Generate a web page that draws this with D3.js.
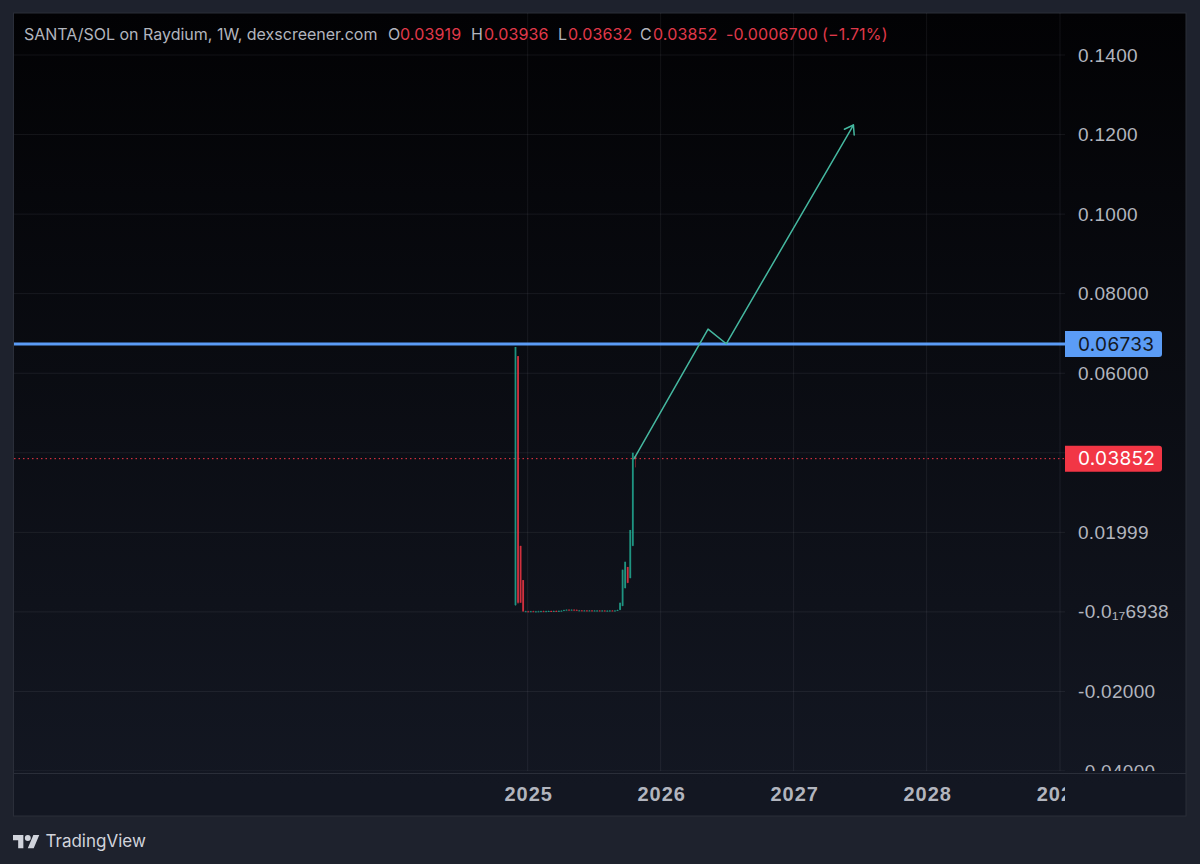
<!DOCTYPE html>
<html>
<head>
<meta charset="utf-8">
<script src="https://cdn.jsdelivr.net/npm/d3@7"></script>
<style>
  html, body { margin: 0; padding: 0; background: #1e222d; }
  svg { display: block; font-family: Inter, "Noto Sans", sans-serif; }
</style>
</head>
<body>
<svg id="chart" width="1200" height="864"></svg>
<script>
// DATA

const candleWeeks = [
  '2024-11-25', '2024-12-02', '2024-12-09', '2024-12-16', '2024-12-23', '2024-12-30',
  '2025-01-06', '2025-01-13', '2025-01-20', '2025-01-27', '2025-02-03', '2025-02-10',
  '2025-02-17', '2025-02-24', '2025-03-03', '2025-03-10', '2025-03-17', '2025-03-24',
  '2025-03-31', '2025-04-07', '2025-04-14', '2025-04-21', '2025-04-28', '2025-05-05',
  '2025-05-12', '2025-05-19', '2025-05-26', '2025-06-02', '2025-06-09', '2025-06-16',
  '2025-06-23', '2025-06-30', '2025-07-07', '2025-07-14', '2025-07-21', '2025-07-28',
  '2025-08-04', '2025-08-11', '2025-08-18', '2025-08-25', '2025-09-01', '2025-09-08',
  '2025-09-15', '2025-09-22', '2025-09-29', '2025-10-06', '2025-10-13', '2025-10-20'
];
const opens = [
  0.0017, 0.0643, 0.0166, 0.0080, 0.00012, 0.00014, 0.00012, 0.00016, 0.00010, 0.00012,
  0.00014, 0.00018, 0.00014, 0.00018, 0.00022, 0.00018, 0.00024, 0.00020, 0.00026, 0.00030,
  0.00050, 0.00056, 0.00048, 0.00056, 0.00052, 0.00036, 0.00038, 0.00034, 0.00036, 0.00032,
  0.00036, 0.00032, 0.00034, 0.00034, 0.00030, 0.00034, 0.00030, 0.00030, 0.00034, 0.00032,
  0.00034, 0.0005, 0.0015, 0.0060, 0.0113, 0.0085, 0.0166, 0.03919
];
const highs = [
  0.0666, 0.0643, 0.0166, 0.0080, 0.00030, 0.00030, 0.00028, 0.00030, 0.00026, 0.00030,
  0.00032, 0.00034, 0.00032, 0.00036, 0.00036, 0.00036, 0.00040, 0.00040, 0.00044, 0.00052,
  0.00064, 0.00066, 0.00064, 0.00066, 0.00062, 0.00050, 0.00048, 0.00048, 0.00046, 0.00046,
  0.00046, 0.00046, 0.00046, 0.00046, 0.00046, 0.00044, 0.00044, 0.00046, 0.00046, 0.00046,
  0.00060, 0.0023, 0.0106, 0.0126, 0.0113, 0.0206, 0.0400, 0.03936
];
const lows = [
  0.0015, 0.0020, 0.0023, 0.0001, 0.00004, 0.00004, 0.00002, 0.00004, 0.00002, 0.00004,
  0.00006, 0.00006, 0.00006, 0.00008, 0.00008, 0.00010, 0.00010, 0.00010, 0.00014, 0.00018,
  0.00036, 0.00040, 0.00036, 0.00040, 0.00032, 0.00024, 0.00024, 0.00022, 0.00024, 0.00020,
  0.00022, 0.00020, 0.00022, 0.00020, 0.00020, 0.00022, 0.00020, 0.00020, 0.00022, 0.00020,
  0.00022, 0.0004, 0.0014, 0.0058, 0.0072, 0.0084, 0.0165, 0.03632
];
const closes = [
  0.0666, 0.0023, 0.0023, 0.0001, 0.00016, 0.00010, 0.00016, 0.00010, 0.00012, 0.00014,
  0.00018, 0.00014, 0.00018, 0.00022, 0.00018, 0.00024, 0.00020, 0.00026, 0.00030, 0.00050,
  0.00056, 0.00048, 0.00056, 0.00052, 0.00036, 0.00038, 0.00034, 0.00036, 0.00032, 0.00036,
  0.00032, 0.00034, 0.00034, 0.00030, 0.00034, 0.00030, 0.00030, 0.00034, 0.00032, 0.00034,
  0.00048, 0.0023, 0.0106, 0.0126, 0.0073, 0.0206, 0.0400, 0.03852
];

// 0.04 has a grid line but its label sits under the last price box
const priceTicks = [0.14, 0.12, 0.10, 0.08, 0.06, 0.04, 0.02, 0, -0.02, -0.04];
const priceLabels = ['0.1400', '0.1200', '0.1000', '0.08000', '0.06000', '', '0.01999', '-0.0₁₇6938', '-0.02000', '-0.04000'];
const yearTicks = ['2025-01-01', '2026-01-01', '2027-01-01', '2028-01-01', '2029-01-01'];

// the hand drawn arrow
const arrowDates = ['2025-10-20', '2026-05-11', '2026-06-30', '2027-06-14'];
const arrowPrices = [0.0385, 0.0711, 0.0674, 0.1224];

const resistance = 0.06733;
const lastClose = 0.03852;

const headerParts = [
  ['SANTA/SOL on Raydium, 1W, dexscreener.com', 'grey', 24],
  ['O', 'grey', 388], ['0.03919', 'red', 400],
  ['H', 'grey', 471], ['0.03936', 'red', 484],
  ['L', 'grey', 558], ['0.03632', 'red', 568],
  ['C', 'grey', 640], ['0.03852', 'red', 653],
  ['-0.0006700', 'red', 726], ['(−1.71%)', 'red', 822]
];

// COLOURS
const green = '#22ab94';
const red = '#f23645';
const blue = '#5b9cf6';
const grey = '#b2b5be';
const gridColour = 'rgba(240,243,250,0.07)';

// LAYOUT
const panel = { left: 14, top: 13, right: 1186, bottom: 816 };
const plot = { right: 1065, bottom: 771 };

const svg = d3.select('#chart');
const defs = svg.append('defs');

const bgGradient = defs.append('linearGradient')
  .attr('id', 'panel-bg')
  .attr('x1', 0).attr('x2', 0).attr('y1', 0).attr('y2', 1);
bgGradient.append('stop').attr('offset', '0%').attr('stop-color', '#020204');
bgGradient.append('stop').attr('offset', '96%').attr('stop-color', '#131722');

defs.append('clipPath').attr('id', 'clip-plot').append('rect')
  .attr('x', panel.left).attr('y', panel.top)
  .attr('width', plot.right - panel.left).attr('height', plot.bottom - panel.top);
defs.append('clipPath').attr('id', 'clip-price').append('rect')
  .attr('x', plot.right).attr('y', panel.top)
  .attr('width', panel.right - plot.right).attr('height', plot.bottom - panel.top);
defs.append('clipPath').attr('id', 'clip-time').append('rect')
  .attr('x', panel.left).attr('y', plot.bottom)
  .attr('width', plot.right - panel.left).attr('height', panel.bottom - plot.bottom);

svg.append('rect')
  .attr('x', panel.left - 0.5).attr('y', panel.top)
  .attr('width', panel.right - panel.left + 0.5)
  .attr('height', panel.bottom - panel.top)
  .attr('fill', 'url(#panel-bg)')
  .attr('stroke', '#2a2e39');

// SCALES
const x = d3.scaleTime()
  .domain([new Date('2025-01-01T00:00:00Z'), new Date('2029-01-01T00:00:00Z')])
  .range([527.7, 1060]);
const y = d3.scaleLinear()
  .domain([-0.04, 0.14])
  .range([771, 55]);

// a weekly candle sits in the middle of its week
const candleX = d => x(d3.utcHour.offset(new Date(d + 'T00:00:00Z'), 84));
const dateX = d => x(new Date(d + 'T00:00:00Z'));

// GRID
const grid = svg.append('g').attr('clip-path', 'url(#clip-plot)');
grid.selectAll('.h-grid')
  .data(priceTicks)
  .join('line')
  .attr('class', 'h-grid')
  .attr('x1', panel.left).attr('x2', plot.right)
  .attr('y1', d => y(d)).attr('y2', d => y(d))
  .attr('stroke', gridColour);
grid.selectAll('.v-grid')
  .data(yearTicks)
  .join('line')
  .attr('class', 'v-grid')
  .attr('x1', dateX).attr('x2', dateX)
  .attr('y1', panel.top).attr('y2', plot.bottom)
  .attr('stroke', gridColour);

// time axis border
svg.append('line')
  .attr('x1', panel.left).attr('x2', panel.right)
  .attr('y1', plot.bottom + 2.5).attr('y2', plot.bottom + 2.5)
  .attr('stroke', '#2a2e39');

// AXES
const priceAxis = svg.append('g')
  .attr('clip-path', 'url(#clip-price)')
  .append('g')
  .attr('transform', 'translate(1078,0)')
  .call(d3.axisRight(y).tickValues(priceTicks).tickSize(0).tickPadding(0)
    .tickFormat((d, i) => priceLabels[i]));
priceAxis.select('.domain').remove();
priceAxis.selectAll('text')
  .attr('fill', grey)
  .attr('font-size', 19)
  .attr('letter-spacing', 0.3);

const timeAxis = svg.append('g')
  .attr('clip-path', 'url(#clip-time)')
  .append('g')
  .attr('transform', 'translate(0.5,791)')
  .call(d3.axisBottom(x).tickValues(yearTicks.map(d => new Date(d + 'T00:00:00Z')))
    .tickSize(0).tickPadding(0).tickFormat(d => d.getUTCFullYear()));
timeAxis.select('.domain').remove();
timeAxis.selectAll('text')
  .attr('fill', grey)
  .attr('font-size', 20)
  .attr('font-weight', 600)
  .attr('letter-spacing', 1)
  .attr('dy', '0.5em');

// LEVEL LINES
svg.append('line')
  .attr('x1', panel.left).attr('x2', plot.right)
  .attr('y1', y(lastClose)).attr('y2', y(lastClose))
  .attr('stroke', red).attr('stroke-dasharray', '1.5 3').attr('stroke-width', 1);

// CANDLES
const candles = candleWeeks.map((week, i) => ({
  week, open: opens[i], high: highs[i], low: lows[i], close: closes[i]
}));
const candleColour = d => d.close >= d.open ? green : red;

const candleGroup = svg.append('g').attr('clip-path', 'url(#clip-plot)').attr('opacity', 0.85);
candleGroup.selectAll('.wick')
  .data(candles)
  .join('line')
  .attr('class', 'wick')
  .attr('x1', d => candleX(d.week)).attr('x2', d => candleX(d.week))
  .attr('y1', d => y(d.high)).attr('y2', d => y(d.low))
  .attr('stroke', candleColour).attr('stroke-width', 0.7).attr('opacity', 0.8);
candleGroup.selectAll('.body')
  .data(candles)
  .join('rect')
  .attr('class', 'body')
  .attr('x', d => candleX(d.week) - 0.9)
  .attr('width', 1.8)
  .attr('y', d => y(Math.max(d.open, d.close)))
  .attr('height', d => Math.max(1, Math.abs(y(d.open) - y(d.close))))
  .attr('fill', candleColour);

// BLUE LINE, over the candles
svg.append('line')
  .attr('x1', panel.left).attr('x2', plot.right)
  .attr('y1', y(resistance)).attr('y2', y(resistance))
  .attr('stroke', blue).attr('stroke-width', 3);

// ARROW
const arrowPoints = arrowDates.map((d, i) => [dateX(d), y(arrowPrices[i])]);
const arrowColour = '#45b8a0';
const arrowGroup = svg.append('g')
  .attr('fill', 'none').attr('stroke', arrowColour).attr('stroke-width', 1.5)
  .attr('stroke-linejoin', 'round').attr('stroke-linecap', 'round');
arrowGroup.append('path')
  .attr('d', d3.line()(arrowPoints));

// head of the arrow, two short strokes back from the tip
const tip = arrowPoints[arrowPoints.length - 1];
const beforeTip = arrowPoints[arrowPoints.length - 2];
const angle = Math.atan2(beforeTip[1] - tip[1], beforeTip[0] - tip[0]);
const headLength = 10;
const headSpread = Math.PI / 5.2;
arrowGroup.append('path')
  .attr('d', d3.line()([
    [tip[0] + headLength * Math.cos(angle - headSpread), tip[1] + headLength * Math.sin(angle - headSpread)],
    tip,
    [tip[0] + headLength * Math.cos(angle + headSpread), tip[1] + headLength * Math.sin(angle + headSpread)]
  ]));

// PRICE LABELS
const priceBoxes = [
  { value: resistance, text: '0.06733', fill: blue, colour: '#131722' },
  { value: lastClose, text: '0.03852', fill: red, colour: '#ffffff' }
];
const boxes = svg.selectAll('.price-box')
  .data(priceBoxes)
  .join('g')
  .attr('class', 'price-box');
boxes.append('path')
  .attr('d', d => {
    const top = y(d.value) - 13;
    return `M1065,${top}H1159a3,3 0 0 1 3,3V${top + 23}a3,3 0 0 1 -3,3H1065Z`;
  })
  .attr('fill', d => d.fill);
boxes.append('text')
  .attr('x', 1078)
  .attr('y', d => y(d.value))
  .attr('dy', '0.35em')
  .attr('font-size', 19)
  .attr('letter-spacing', 0.3)
  .attr('fill', d => d.colour)
  .text(d => d.text);

// HEADER
svg.append('g').selectAll('text')
  .data(headerParts)
  .join('text')
  .attr('x', d => d[2])
  .attr('y', 40)
  .attr('font-size', 16)
  .attr('letter-spacing', (d, i) => i === 0 ? 0 : 0.15)
  .attr('fill', d => d[1] === 'red' ? '#e0394a' : grey)
  .text(d => d[0]);

// TRADINGVIEW LOGO
const logo = svg.append('g')
  .attr('transform', 'translate(13,832) scale(0.74)')
  .attr('fill', '#d1d4dc');
logo.append('path').attr('d', 'M14 22H7V11H0V4h14v18zM28 22h-8l7.5-18h8L28 22z');
logo.append('circle').attr('cx', 20).attr('cy', 8).attr('r', 4);

svg.append('text')
  .attr('x', 45.5).attr('y', 847)
  .attr('font-size', 17)
  .attr('fill', '#d1d4dc')
  .text('TradingView');
</script>
</body>
</html>
